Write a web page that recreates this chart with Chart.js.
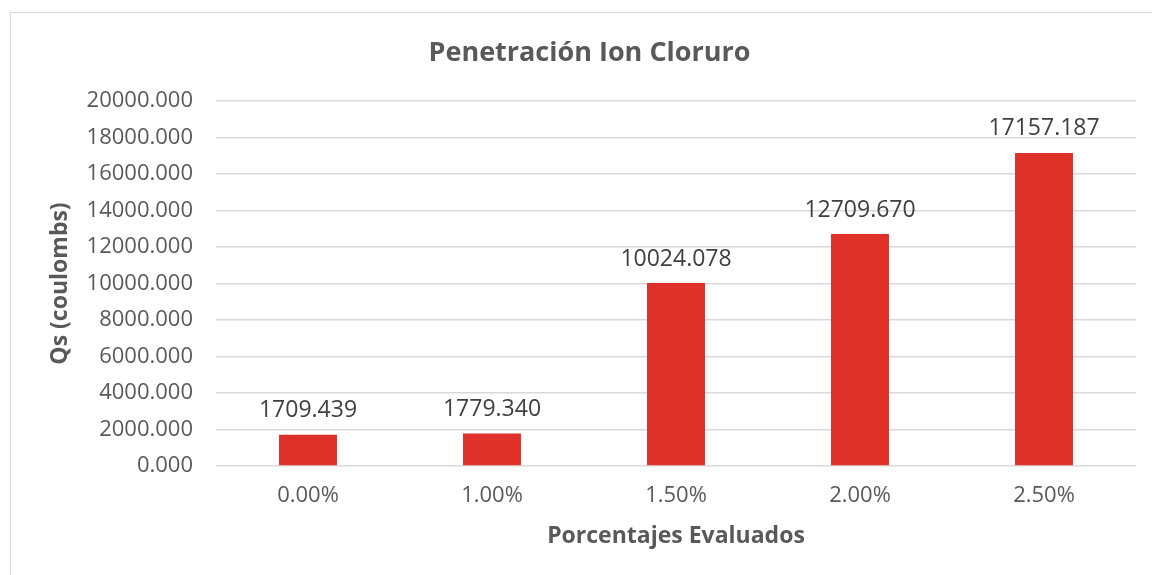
<!DOCTYPE html>
<html>
<head>
<meta charset="utf-8">
<script src="https://cdn.jsdelivr.net/npm/chart.js@4"></script>
<style>
  html, body { margin: 0; padding: 0; background: #fff; }
  #box {
    position: absolute; left: 10px; top: 12px;
    width: 1150px; height: 570px;
    border: 1px solid #d9d9d9; box-sizing: border-box;
  }
  #chart { display: block; }
</style>
</head>
<body>
<div id="box"><canvas id="chart" width="1141" height="562"></canvas></div>
<script>
// Penetracion ion cloruro - datos
const porcentajes = ['0.00%', '1.00%', '1.50%', '2.00%', '2.50%'];
const carga = [1709.439, 1779.340, 10024.078, 12709.670, 17157.187];
const ejeY = { min: 0, max: 20000, paso: 2000 };

const fuente = "'Open Sans', 'Lato', sans-serif";
const gris = '#595959';

// dibuja el valor encima de cada barra
const etiquetas = {
    id: 'etiquetas',
    afterDatasetsDraw(chart) {
        const ctx = chart.ctx;
        const meta = chart.getDatasetMeta(0);
        ctx.save();
        ctx.font = '23px ' + fuente;
        ctx.fillStyle = '#404040';
        ctx.textAlign = 'center';
        ctx.textBaseline = 'middle';
        meta.data.forEach(function(bar, i){
            ctx.fillText(carga[i].toFixed(3), bar.x, bar.y - 24);
        });
        ctx.restore();
    }
};

const ctx = document.getElementById('chart').getContext('2d');
const grafico = new Chart(ctx, {
    type: 'bar',
    data: {
        labels: porcentajes,
        datasets: [{
            label: 'Qs',
            data: carga,
            backgroundColor: '#E0302A',
            categoryPercentage: 1,
            barPercentage: 0.315
        }]
    },
    options: {
        responsive: false,
        animation: false,
        layout: { padding: { left: 32, right: 16, top: 0, bottom: 21 } },
        plugins: {
            legend: { display: false },
            tooltip: { enabled: false },
            title: {
                display: true,
                text: 'Penetración Ion Cloruro',
                color: gris,
                font: { family: fuente, size: 27, weight: 'bold' },
                padding: { top: 24, bottom: 31.6 }
            }
        },
        scales: {
            x: {
                grid: { display: false, drawTicks: false },
                border: { display: false },
                ticks: { color: gris, font: { family: fuente, size: 22 }, padding: 17 },
                title: {
                    display: true,
                    text: 'Porcentajes Evaluados',
                    color: gris,
                    font: { family: fuente, size: 23, weight: 'bold' },
                    padding: { top: 4, bottom: 4 }
                },
                afterFit: function(scale){ scale.height = 88; }
            },
            y: {
                min: ejeY.min,
                max: ejeY.max,
                grid: { color: '#d9d9d9', lineWidth: 1.5, drawTicks: false },
                border: { display: false },
                ticks: {
                    stepSize: ejeY.paso,
                    color: gris,
                    font: { family: fuente, size: 22 },
                    padding: 23,
                    callback: function(v){ return Number(v).toFixed(3); }
                },
                title: {
                    display: true,
                    text: 'Qs (coulombs)',
                    color: gris,
                    font: { family: fuente, size: 23, weight: 'bold' },
                    padding: { top: 4, bottom: 4 }
                },
                afterFit: function(scale){ scale.width = 173; }
            }
        }
    },
    plugins: [etiquetas]
});
</script>
</body>
</html>
